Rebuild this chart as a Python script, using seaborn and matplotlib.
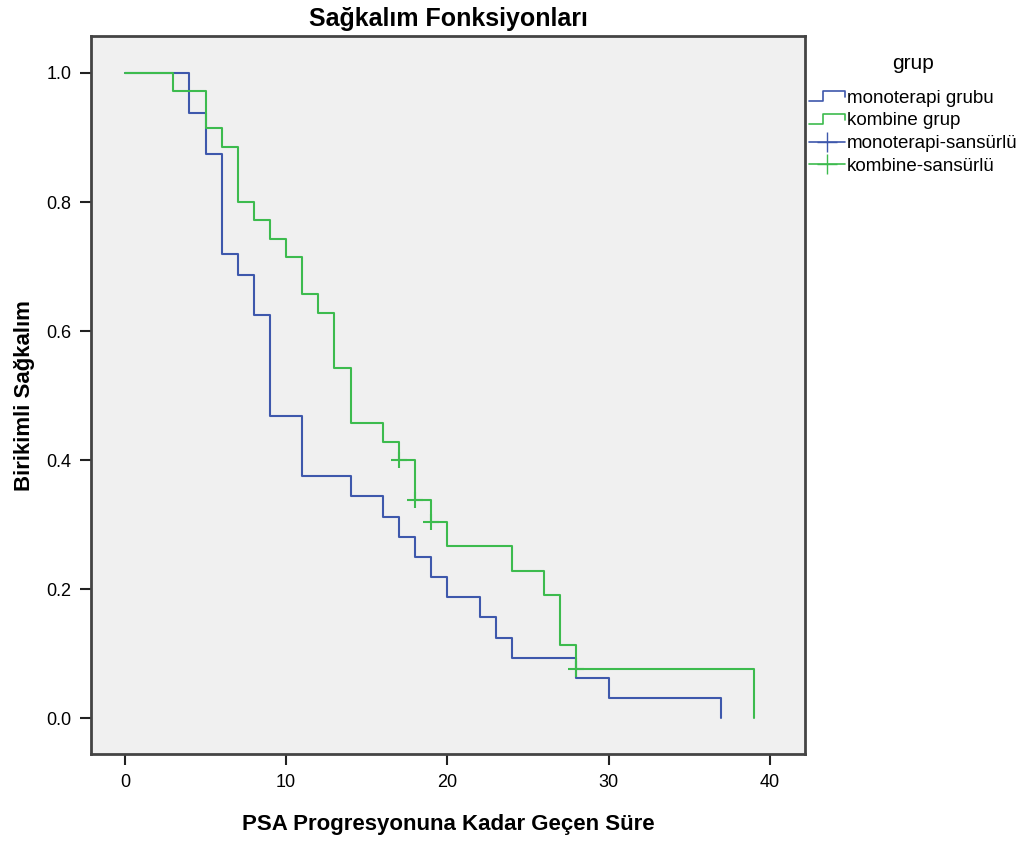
import numpy as np
import pandas as pd
import seaborn as sns
import matplotlib.pyplot as plt
from matplotlib.lines import Line2D
from matplotlib.legend_handler import HandlerBase

# Kaplan-Meier basamaklari
mono_zaman = [0, 4, 5, 6, 7, 8, 9, 11, 14, 16, 17, 18, 19, 20, 22, 23, 24, 28, 30, 37]
mono_sagkalim = [1.0, 0.9375, 0.875, 0.71875, 0.6875, 0.625, 0.46875, 0.375, 0.34375,
                 0.3125, 0.28125, 0.25, 0.21875, 0.1875, 0.15625, 0.125, 0.09375,
                 0.0625, 0.03125, 0.0]

komb_zaman = [0, 3, 5, 6, 7, 8, 9, 10, 11, 12, 13, 14, 16, 17, 18, 19, 20, 24, 26, 27, 28, 39]
komb_sagkalim = [1.0, 0.9714, 0.9143, 0.8857, 0.8, 0.7714, 0.7429, 0.7143, 0.6571, 0.6286,
                 0.5429, 0.4571, 0.4286, 0.4, 0.3385, 0.3046, 0.2665, 0.2285, 0.1904,
                 0.1142, 0.0762, 0.0]

# sansurlu gozlemler
komb_sansur_zaman = [17, 18, 19, 28]
komb_sansur_sagkalim = [0.4, 0.3385, 0.3046, 0.0762]

mavi = "#3E58AC"
yesil = "#3DBB4E"

sns.set_style("white")
plt.rcParams['font.family'] = ['Liberation Sans', 'DejaVu Sans']
plt.rcParams['text.color'] = 'black'
plt.rcParams['axes.labelcolor'] = 'black'
plt.rcParams['xtick.color'] = 'black'
plt.rcParams['ytick.color'] = 'black'

fig = plt.figure(figsize=(10.29, 8.41), dpi=100)
ax = fig.add_axes([0.0885, 0.103, 0.694, 0.854])
ax.set_facecolor("#F0F0F0")

df_mono = pd.DataFrame({"t": mono_zaman, "s": mono_sagkalim})
df_komb = pd.DataFrame({"t": komb_zaman, "s": komb_sagkalim})
df_sansur = pd.DataFrame({"t": komb_sansur_zaman, "s": komb_sansur_sagkalim})

sns.lineplot(data=df_mono, x="t", y="s", ax=ax, color=mavi, lw=1.5,
             drawstyle="steps-post", estimator=None, sort=False)
sns.lineplot(data=df_komb, x="t", y="s", ax=ax, color=yesil, lw=1.5,
             drawstyle="steps-post", estimator=None, sort=False)
sns.scatterplot(data=df_sansur, x="t", y="s", ax=ax, color=yesil, marker="+",
                s=140, linewidth=1.5, zorder=5)

ax.set_xlim(-2.1, 42.2)
ax.set_ylim(-0.056, 1.057)
ax.set_xticks([0, 10, 20, 30, 40])
ax.set_yticks([0.0, 0.2, 0.4, 0.6, 0.8, 1.0])
ax.set_yticklabels(["0.0", "0.2", "0.4", "0.6", "0.8", "1.0"])
ax.tick_params(axis="both", direction="out", length=8, width=1.5, color="#222222",
               labelsize=13, pad=6, left=True, bottom=True)
for sp in ax.spines.values():
    sp.set_color("#444444")
    sp.set_linewidth(2)

ax.set_title("Sağkalım Fonksiyonları", fontsize=18, fontweight="bold", pad=7)
ax.set_xlabel("PSA Progresyonuna Kadar Geçen Süre", fontsize=16, fontweight="bold", labelpad=17)
ax.set_ylabel("Birikimli Sağkalım", fontsize=16, fontweight="bold", labelpad=8)


class BasamakHandler(HandlerBase):
    def create_artists(self, legend, orig_handle, xdescent, ydescent, width, height, fontsize, trans):
        x0, x1 = -xdescent, -xdescent + width
        y0, y1 = -ydescent + height * 0.1, -ydescent + height * 0.9
        xs = [x0, x0 + width * 0.4, x0 + width * 0.4, x1, x1]
        ys = [y0, y0, y1, y1, y0 + height * 0.3]
        ln = Line2D(xs, ys, color=orig_handle.get_color(), lw=1.2, transform=trans)
        return [ln]


h_mono = Line2D([], [], color=mavi)
h_komb = Line2D([], [], color=yesil)
h_mono_s = Line2D([], [], color=mavi, marker="+", markersize=14, lw=1.2)
h_komb_s = Line2D([], [], color=yesil, marker="+", markersize=14, lw=1.2)

leg = fig.legend([h_mono, h_komb, h_mono_s, h_komb_s],
                 ["monoterapi grubu", "kombine grup", "monoterapi-sansürlü", "kombine-sansürlü"],
                 title="grup", loc="upper left", bbox_to_anchor=(0.770, 0.956),
                 frameon=False, fontsize=13.5, title_fontsize=15,
                 handler_map={h_mono: BasamakHandler(), h_komb: BasamakHandler()},
                 handlelength=1.9, handletextpad=0.1, labelspacing=0.3)
leg._legend_box.sep = 12

fig.savefig("out.png", dpi=100)
